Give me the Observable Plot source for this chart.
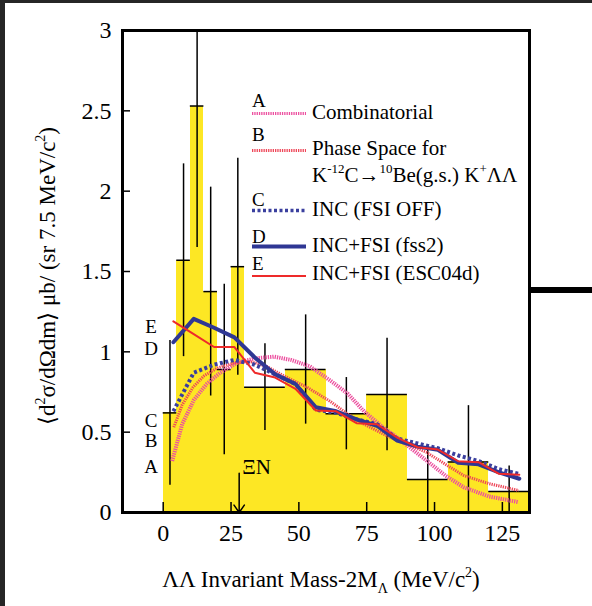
<!DOCTYPE html>
<html><head><meta charset="utf-8">
<script src="https://cdn.jsdelivr.net/npm/d3@7"></script>
<script src="https://cdn.jsdelivr.net/npm/@observablehq/plot@0.6"></script>
<style>
body{margin:0;background:#fff;}
#wrap{position:relative;width:592px;height:606px;overflow:hidden;background:#fff;font-family:"Liberation Serif","Times New Roman",serif;}
#chart{position:absolute;left:0;top:0;}
#ov{position:absolute;left:0;top:0;pointer-events:none;}
.band{position:absolute;background:#262626;}
</style></head><body>
<div id="wrap">
<div id="chart"></div>
<svg id="ov" width="592" height="606" font-family="Liberation Serif, Times New Roman, serif" fill="#000">
  <!-- x axis title -->
  <text x="321" y="587" font-size="23" text-anchor="middle">ΛΛ Invariant Mass-2M<tspan font-size="14" dy="6">Λ</tspan><tspan dy="-6"> (MeV/c</tspan><tspan font-size="14" dy="-10">2</tspan><tspan dy="10">)</tspan></text>
  <!-- y axis title -->
  <text transform="translate(55,276) rotate(-90)" font-size="23" text-anchor="middle">⟨d<tspan font-size="14" dy="-10">2</tspan><tspan dy="10">σ/dΩdm⟩ μb/ (sr 7.5 MeV/c</tspan><tspan font-size="14" dy="-10">2</tspan><tspan dy="10">)</tspan></text>
  <!-- legend -->
  <g font-size="19">
    <text x="252" y="107">A</text>
    <text x="252" y="141">B</text>
    <text x="252" y="206">C</text>
    <text x="252" y="243">D</text>
    <text x="252" y="270">E</text>
  </g>
  <line x1="252" x2="306" y1="113.5" y2="113.5" stroke="#ec4f9f" stroke-width="3" stroke-dasharray="1.3,1"/>
  <line x1="252" x2="306" y1="150.5" y2="150.5" stroke="#ee4658" stroke-width="3" stroke-dasharray="1.3,1"/>
  <line x1="252" x2="306" y1="210.5" y2="210.5" stroke="#3a3f9e" stroke-width="3.5" stroke-dasharray="3,2.5"/>
  <line x1="252" x2="306" y1="246.5" y2="246.5" stroke="#2f3794" stroke-width="4"/>
  <line x1="252" x2="306" y1="276" y2="276" stroke="#ee2a2a" stroke-width="2"/>
  <g font-size="21">
    <text x="312" y="119">Combinatorial</text>
    <text x="312" y="155">Phase Space for</text>
    <text x="312" y="182">K<tspan font-size="13" dy="-9">-12</tspan><tspan dy="9">C→</tspan><tspan font-size="13" dy="-9">10</tspan><tspan dy="9">Be(g.s.) K</tspan><tspan font-size="13" dy="-9">+</tspan><tspan dy="9">ΛΛ</tspan></text>
    <text x="312" y="216">INC (FSI OFF)</text>
    <text x="312" y="252">INC+FSI (fss2)</text>
    <text x="312" y="280">INC+FSI (ESC04d)</text>
  </g>
</svg>
<div class="band" style="left:0;top:0;width:592px;height:3px;"></div>
<div class="band" style="left:0;top:0;width:5px;height:606px;"></div>
<div style="position:absolute;left:529px;top:287px;width:63px;height:6px;background:#000;"></div>
</div>
<script>
// Histogram (measured cross-section per bin)
const binEdges = [0, 5, 10, 15, 20, 25, 30, 45, 60, 75, 90, 105, 120, 135];
const binCounts = [0.62, 1.57, 2.53, 1.375, 0.89, 1.53, 0.78, 0.89, 0.615, 0.735, 0.205, 0.315, 0.13];
const binErrors = [0.45, 0.60, 0.88, 0.65, 0.53, 0.675, 0.27, 0.34, 0.225, 0.35, 0.21, 0.35, 0.16];

// Calculated curves on a 7.5 MeV grid
const curveMass = [3.75, 11.25, 18.75, 26.25, 33.75, 41.25, 48.75, 56.25, 63.75, 71.25, 78.75, 86.25, 93.75, 101.25, 108.75, 116.25, 123.75, 131.25];
const incFsiOff = [0.63, 0.87, 0.92, 0.95, 0.92, 0.86, 0.80, 0.64, 0.62, 0.58, 0.55, 0.46, 0.43, 0.40, 0.355, 0.32, 0.27, 0.24];
const incFss2 = [1.06, 1.205, 1.15, 1.09, 0.965, 0.86, 0.80, 0.655, 0.63, 0.58, 0.54, 0.448, 0.41, 0.39, 0.31, 0.30, 0.25, 0.21];
const incEsc04d = [1.19, 1.11, 1.03, 1.03, 0.87, 0.84, 0.77, 0.635, 0.63, 0.556, 0.55, 0.466, 0.406, 0.392, 0.319, 0.313, 0.241, 0.235];

// Smooth model curves
const combMass = [3.3, 7, 11.3, 16, 21, 27, 34, 40.8, 47, 54, 61.7, 68, 74, 81, 86, 92, 97.3, 104, 110.8, 120, 131];
const combVals = [0.32, 0.55, 0.70, 0.80, 0.87, 0.93, 0.96, 0.97, 0.95, 0.91, 0.82, 0.74, 0.63, 0.53, 0.47, 0.39, 0.32, 0.23, 0.157, 0.10, 0.064];
const phaseMass = [3.9, 7, 11, 15, 20, 26, 32, 38, 44.5, 53, 61.7, 69, 74, 81, 86, 92, 97, 104, 110.8, 120, 131];
const phaseVals = [0.53, 0.67, 0.78, 0.85, 0.90, 0.93, 0.94, 0.91, 0.85, 0.78, 0.69, 0.60, 0.55, 0.49, 0.45, 0.41, 0.375, 0.30, 0.23, 0.18, 0.137];

// Annotations
const curveLetters = ["E", "D", "C", "B", "A"];
const curveLetterY = [1.157, 1.017, 0.572, 0.448, 0.283];
const curveLetterX = -4.5;
const xiNThreshold = 28;
const xiNArrowTop = 0.245;
const xiNLabelY = 0.283;

const xTicks = [0, 25, 50, 75, 100, 125];
const yTicks = [0, 0.5, 1, 1.5, 2, 2.5, 3];

const bins = binCounts.map((v, i) => ({
  x1: binEdges[i], x2: binEdges[i + 1], c: (binEdges[i] + binEdges[i + 1]) / 2,
  v, lo: Math.max(0, v - binErrors[i]), hi: Math.min(3, v + binErrors[i])
}));
const series = (xs, ys) => xs.map((x, i) => ({x, y: ys[i]}));
const letters = curveLetters.map((t, i) => ({t, x: curveLetterX, y: curveLetterY[i]}));

const plot = Plot.plot({
  width: 592, height: 606,
  marginLeft: 122, marginRight: 63, marginTop: 30, marginBottom: 94,
  x: {domain: [-15, 135]},
  y: {domain: [0, 3]},
  style: {fontFamily: "Liberation Serif, Times New Roman, serif", fontSize: "24px", background: "transparent", color: "#000"},
  marks: [
    Plot.rectY(bins, {x1: "x1", x2: "x2", y: "v", fill: "#fde724", shapeRendering: "crispEdges"}),
    Plot.ruleY(bins, {x1: "x1", x2: "x2", y: "v", stroke: "#000", strokeWidth: 1.5}),
    Plot.ruleX(bins, {x: "c", y1: "lo", y2: "hi", stroke: "#000", strokeWidth: 1.5}),
    Plot.line(series(combMass, combVals), {x: "x", y: "y", stroke: "#ec4f9f", strokeWidth: 4, strokeDasharray: "1.3,1", strokeLinecap: "butt"}),
    Plot.line(series(phaseMass, phaseVals), {x: "x", y: "y", stroke: "#ee4658", strokeWidth: 3, strokeDasharray: "1.3,1", strokeLinecap: "butt"}),
    Plot.line(series(curveMass, incFsiOff), {x: "x", y: "y", stroke: "#3a3f9e", strokeWidth: 4, strokeDasharray: "3,2.5", strokeLinecap: "butt"}),
    Plot.line(series(curveMass, incFss2), {x: "x", y: "y", stroke: "#2f3794", strokeWidth: 4}),
    Plot.line(series(curveMass, incEsc04d), {x: "x", y: "y", stroke: "#ee2a2a", strokeWidth: 2}),
    Plot.text(letters, {x: "x", y: "y", text: "t", fontSize: 19, fill: "#000"}),
    Plot.arrow([{x: xiNThreshold, y1: xiNArrowTop, y2: 0}], {x1: "x", x2: "x", y1: "y1", y2: "y2", stroke: "#000", strokeWidth: 1.5, headLength: 9, headAngle: 70}),
    Plot.text([{x: xiNThreshold, y: xiNLabelY}], {x: "x", y: "y", text: () => "ΞN", textAnchor: "start", dx: 3, fontSize: 21, fill: "#000"}),
    Plot.axisX({ticks: xTicks, tickFormat: d => String(d), tickSize: -10, tickPadding: 21, label: null, fontSize: 24, strokeWidth: 1.5}),
    Plot.axisY({ticks: yTicks, tickFormat: d => String(d), tickSize: -8, tickPadding: 19, label: null, fontSize: 24, strokeWidth: 1.5}),
    Plot.frame({stroke: "#000", strokeWidth: 3})
  ]
});
document.getElementById("chart").appendChild(plot);
</script>
</body></html>
